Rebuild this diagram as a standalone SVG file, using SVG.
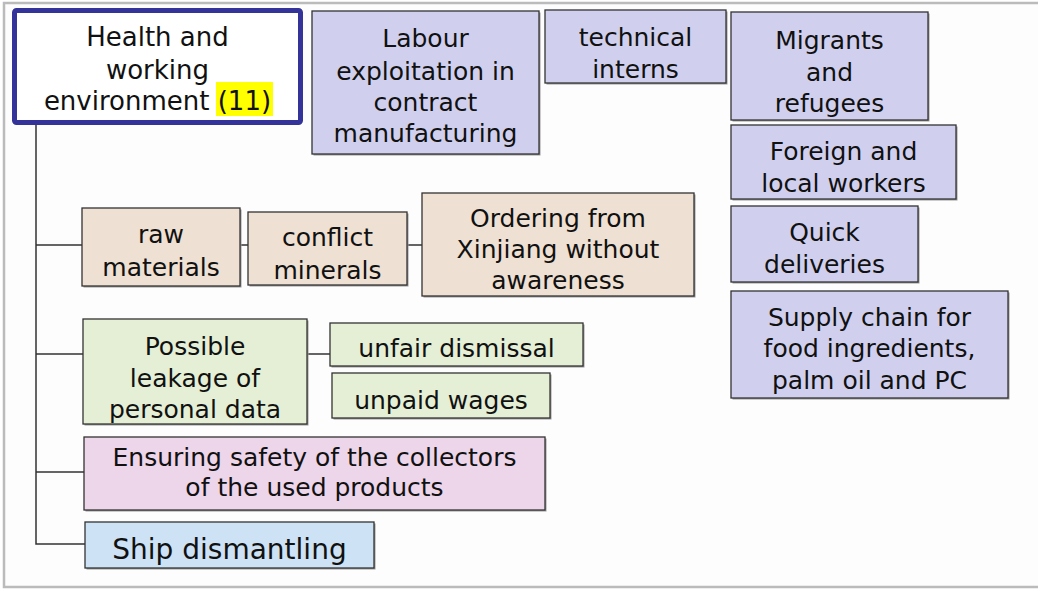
<svg xmlns="http://www.w3.org/2000/svg" width="1038" height="589" viewBox="0 0 1038 589">
<style>
.t{font-family:"DejaVu Sans","Noto Sans",sans-serif;font-size:25px;fill:#111;text-anchor:middle}
.b{stroke:#333;stroke-width:1.3}
.sh{fill:#9a9a9a}
.lav{fill:#D0D0EE}
.tan{fill:#EEE0D2}
.grn{fill:#E4EFD6}
.pnk{fill:#EDD5EA}
.blu{fill:#CDE2F4}
.c{stroke:#333;stroke-width:1.5;fill:none}
</style>
<rect x="0" y="0" width="1038" height="589" fill="#fff"/>
<rect x="4" y="3" width="1040" height="584" fill="#fdfdfd" stroke="#bbb" stroke-width="2.5"/>
<g id="connectors">
<path class="c" d="M36 125V544H85M36 245H82M240 245H248M407 245H422M36 354H83M307 354H330M36 472H84"/>
</g>
<g id="root">
<rect x="14.5" y="10.5" width="286" height="112" rx="2" fill="#fff" stroke="#333399" stroke-width="5"/>
<rect x="216" y="82" width="57" height="34" fill="#ffff00"/>
<text class="t" style="font-size:26px" x="157.5" y="46">Health and</text>
<text class="t" style="font-size:26px" x="157.5" y="79">working</text>
<text class="t" style="font-size:26px" x="157.5" y="110">environment (11)</text>
</g>
<g id="labour">
<rect class="sh" x="313.5" y="12.5" width="227" height="143"/>
<rect class="lav b" x="312" y="11" width="227" height="143"/>
<text class="t" x="425.5" y="47">Labour</text>
<text class="t" x="425.5" y="80">exploitation in</text>
<text class="t" x="425.5" y="111">contract</text>
<text class="t" x="425.5" y="142">manufacturing</text>
</g>
<g id="interns">
<rect class="sh" x="546.5" y="11.5" width="181" height="73"/>
<rect class="lav b" x="545" y="10" width="181" height="73"/>
<text class="t" x="635.5" y="46">technical</text>
<text class="t" x="635.5" y="78">interns</text>
</g>
<g id="migrants">
<rect class="sh" x="732.5" y="13.5" width="197" height="108"/>
<rect class="lav b" x="731" y="12" width="197" height="108"/>
<text class="t" x="829.5" y="49">Migrants</text>
<text class="t" x="829.5" y="81">and</text>
<text class="t" x="829.5" y="112">refugees</text>
</g>
<g id="foreign">
<rect class="sh" x="732.5" y="126.5" width="225" height="74"/>
<rect class="lav b" x="731" y="125" width="225" height="74"/>
<text class="t" x="843.5" y="160">Foreign and</text>
<text class="t" x="843.5" y="192">local workers</text>
</g>
<g id="quick">
<rect class="sh" x="732.5" y="207.5" width="187" height="76"/>
<rect class="lav b" x="731" y="206" width="187" height="76"/>
<text class="t" x="824.5" y="241">Quick</text>
<text class="t" x="824.5" y="273">deliveries</text>
</g>
<g id="supply">
<rect class="sh" x="732.5" y="292.5" width="277" height="107"/>
<rect class="lav b" x="731" y="291" width="277" height="107"/>
<text class="t" x="869.5" y="326">Supply chain for</text>
<text class="t" x="869.5" y="357">food ingredients,</text>
<text class="t" x="869.5" y="389">palm oil and PC</text>
</g>
<g id="raw">
<rect class="sh" x="83.5" y="209.5" width="158" height="78"/>
<rect class="tan b" x="82" y="208" width="158" height="78"/>
<text class="t" x="161" y="243">raw</text>
<text class="t" x="161" y="276">materials</text>
</g>
<g id="conflict">
<rect class="sh" x="249.5" y="213.5" width="159" height="73"/>
<rect class="tan b" x="248" y="212" width="159" height="73"/>
<text class="t" x="327.5" y="246">conflict</text>
<text class="t" x="327.5" y="279">minerals</text>
</g>
<g id="xinjiang">
<rect class="sh" x="423.5" y="194.5" width="272" height="103"/>
<rect class="tan b" x="422" y="193" width="272" height="103"/>
<text class="t" x="558" y="227">Ordering from</text>
<text class="t" x="558" y="258">Xinjiang without</text>
<text class="t" x="558" y="289">awareness</text>
</g>
<g id="leakage">
<rect class="sh" x="84.5" y="320.5" width="224" height="105"/>
<rect class="grn b" x="83" y="319" width="224" height="105"/>
<text class="t" x="195" y="355">Possible</text>
<text class="t" x="195" y="387">leakage of</text>
<text class="t" x="195" y="418">personal data</text>
</g>
<g id="dismissal">
<rect class="sh" x="331.5" y="324.5" width="253" height="43"/>
<rect class="grn b" x="330" y="323" width="253" height="43"/>
<text class="t" x="456.5" y="357">unfair dismissal</text>
</g>
<g id="wages">
<rect class="sh" x="333.5" y="374.5" width="218" height="45"/>
<rect class="grn b" x="332" y="373" width="218" height="45"/>
<text class="t" x="441" y="409">unpaid wages</text>
</g>
<g id="collectors">
<rect class="sh" x="85.5" y="438.5" width="461" height="73"/>
<rect class="pnk b" x="84" y="437" width="461" height="73"/>
<text class="t" x="314.5" y="466">Ensuring safety of the collectors</text>
<text class="t" x="314.5" y="496">of the used products</text>
</g>
<g id="ship">
<rect class="sh" x="86.5" y="523.5" width="289" height="46"/>
<rect class="blu b" x="85" y="522" width="289" height="46"/>
<text class="t" style="font-size:28px" x="229.5" y="559">Ship dismantling</text>
</g>
</svg>
